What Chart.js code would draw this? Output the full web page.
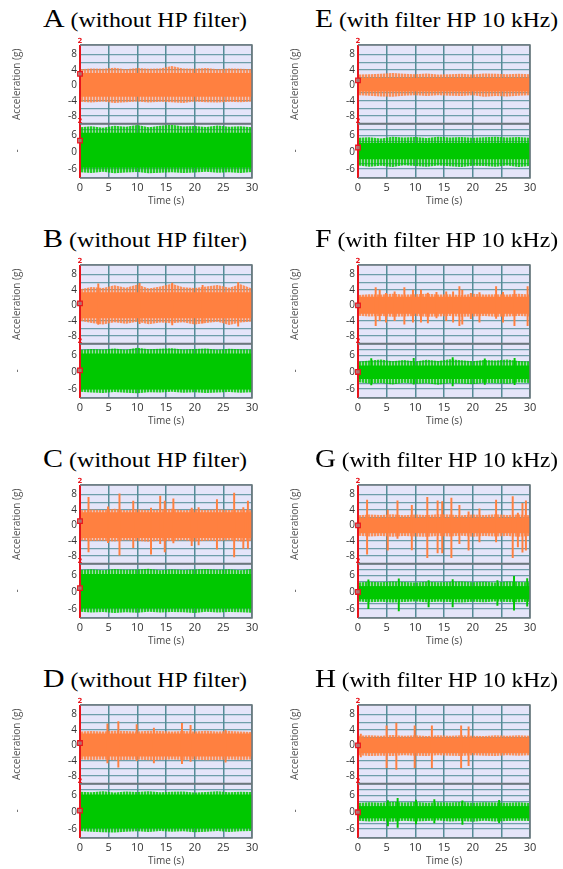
<!DOCTYPE html>
<html>
<head>
<meta charset="utf-8">
<script src="https://cdn.jsdelivr.net/npm/chart.js@4.4.1/dist/chart.umd.min.js"></script>
<style>
  body { margin: 0; width: 563px; height: 869px; background: #fff; position: relative; overflow: hidden; }
  .ttl { position: absolute; white-space: nowrap; transform-origin: 0 0;
         font-family: 'Liberation Serif', 'Times New Roman', serif; font-size: 20px; line-height: 26px; color: #000; }
  .ttl span { font-size: 25px; }
  canvas { position: absolute; }
</style>
</head>
<body>
<script>
// panels A-D (left column) and E-H (right column)
const panelLetters = ['A', 'B', 'C', 'D', 'E', 'F', 'G', 'H'];
const panelNotes = ['(without HP filter)', '(without HP filter)', '(without HP filter)', '(without HP filter)',
  '(with filter HP 10 kHz)', '(with filter HP 10 kHz)', '(with filter HP 10 kHz)', '(with filter HP 10 kHz)'];

// envelope sampled every 2 s
const envTimes = [0, 2, 4, 6, 8, 10, 12, 14, 16, 18, 20, 22, 24, 26, 28, 30];

// upper trace (orange): outer envelope of the noise, in g
const orangeHi = [
  [4.2, 4.4, 4.3, 4.6, 4.2, 4.5, 4.3, 4.4, 5.0, 4.4, 4.3, 4.5, 4.2, 4.4, 4.3, 4.2],
  [4.2, 4.8, 4.5, 5.2, 4.6, 5.4, 4.4, 4.9, 5.6, 4.7, 4.5, 4.9, 5.3, 4.6, 5.5, 4.4],
  [3.9, 4.1, 4.0, 4.3, 3.9, 4.2, 4.0, 4.1, 4.3, 3.9, 4.1, 4.0, 4.2, 4.0, 4.1, 3.9],
  [3.6, 3.7, 3.6, 3.8, 3.7, 3.6, 3.8, 3.7, 3.6, 3.7, 3.6, 3.8, 3.6, 3.7, 3.6, 3.5],
  [2.8, 2.9, 3.0, 3.2, 3.0, 2.9, 3.1, 2.8, 2.9, 3.0, 2.8, 3.1, 3.0, 2.9, 3.0, 2.9],
  [2.7, 2.9, 2.8, 3.0, 2.8, 2.9, 3.0, 2.8, 2.9, 2.7, 3.0, 2.8, 2.9, 2.8, 3.0, 2.8],
  [2.6, 2.8, 2.7, 2.9, 2.6, 2.8, 2.7, 2.9, 2.8, 2.6, 2.8, 2.7, 2.9, 2.7, 2.8, 2.6],
  [2.5, 2.6, 2.5, 2.7, 2.5, 2.6, 2.4, 2.6, 2.5, 2.6, 2.5, 2.4, 2.6, 2.5, 2.6, 2.5]
];
const orangeLo = [
  [-4.3, -4.5, -4.2, -4.6, -4.4, -4.2, -4.5, -4.3, -4.4, -4.6, -4.2, -4.4, -4.5, -4.3, -4.4, -4.2],
  [-4.0, -4.6, -5.0, -4.4, -4.8, -4.3, -4.9, -4.5, -4.7, -4.4, -5.0, -4.6, -4.3, -5.1, -4.5, -4.2],
  [-3.9, -4.1, -4.0, -4.2, -3.9, -4.1, -4.3, -4.0, -4.1, -3.9, -4.2, -4.0, -4.1, -3.9, -4.2, -4.0],
  [-3.7, -3.8, -3.7, -3.9, -3.8, -3.7, -3.9, -3.8, -3.7, -3.8, -3.7, -3.9, -3.8, -3.7, -3.8, -3.7],
  [-2.6, -2.7, -2.9, -3.0, -2.7, -2.6, -2.8, -2.6, -2.7, -2.8, -2.6, -3.0, -2.8, -2.9, -2.7, -2.6],
  [-2.7, -2.9, -2.8, -3.0, -2.9, -2.8, -3.0, -2.9, -2.8, -3.0, -2.9, -2.8, -3.0, -2.9, -2.8, -2.9],
  [-2.7, -2.9, -2.8, -3.0, -2.8, -2.9, -3.0, -2.8, -2.9, -2.7, -3.0, -2.8, -2.9, -2.8, -3.0, -2.8],
  [-2.6, -2.8, -2.7, -2.8, -2.6, -2.7, -2.8, -2.6, -2.7, -2.8, -2.6, -2.7, -2.8, -2.6, -2.7, -2.6]
];
// dense part of the orange trace [top, bottom]
const orangeCore = [[3.2, -3.0], [3.4, -3.4], [3.4, -3.3], [3.1, -2.9], [1.9, -1.6], [2.2, -2.2], [1.9, -2.0], [2.0, -2.0]];
// isolated peaks [time s, top g, bottom g]
const orangeSpikes = [
  [],
  [[3.3, 5.6, -5.0], [10.5, 5.7, -4.8], [16.2, 5.8, -5.1], [21.5, 5.2, -4.6], [27.7, 5.9, -5.4]],
  [[1.6, 7.3, -6.9], [5.0, 4.8, -4.5], [7.0, 8.2, -7.8], [9.4, 6.3, -5.8], [12.5, 4.5, -7.5], [14.1, 7.6, -4.8],
   [14.9, 6.3, -6.9], [16.4, 6.9, -4.6], [19.6, 4.5, -5.3], [20.8, 4.6, -5.1], [24.0, 6.7, -6.2], [27.0, 8.4, -8.2],
   [28.6, 4.6, -6.0], [29.4, 6.3, -6.0]],
  [[4.9, 5.6, -4.6], [6.8, 6.2, -5.7], [10.0, 5.4, -4.0], [13.0, 4.5, -4.6], [17.9, 5.7, -4.8], [19.4, 5.2, -4.2], [25.5, 4.0, -4.4]],
  [],
  [[3.2, 4.6, -5.3], [3.9, 4.0, -4.0], [5.0, 3.1, -4.4], [6.5, 3.5, -4.0], [8.2, 4.6, -4.9], [9.7, 4.0, -4.4],
   [11.1, 4.0, -4.4], [12.3, 3.2, -4.6], [13.8, 3.4, -3.3], [15.5, 3.5, -4.0], [16.7, 3.5, -4.4], [17.8, 4.9, -5.3],
   [18.3, 4.0, -4.9], [19.8, 3.1, -3.5], [21.3, 3.3, -4.4], [24.2, 4.9, -3.4], [25.4, 3.4, -4.4], [27.4, 4.0, -5.3], [29.7, 4.9, -5.3]],
  [[1.7, 6.6, -7.5], [5.3, 4.0, -6.5], [7.0, 6.4, -3.4], [9.5, 5.2, -6.4], [12.2, 7.3, -8.4], [14.0, 6.4, -7.2],
   [14.8, 6.2, -7.2], [16.4, 7.1, -8.4], [17.8, 5.2, -4.8], [19.4, 3.5, -6.5], [21.3, 4.3, -4.3], [24.2, 6.6, -4.3],
   [27.1, 7.5, -8.4], [28.0, 3.2, -5.6], [28.8, 5.7, -7.0], [29.4, 6.4, -6.5]],
  [[0.6, 2.9, -3.0], [5.1, 5.1, -5.8], [6.8, 5.8, -6.3], [10.0, 5.1, -5.8], [13.0, 5.1, -5.8], [18.1, 5.1, -5.8], [19.4, 4.8, -5.3]]
];

// lower trace (green)
const greenHi = [
  [9.0, 9.4, 8.8, 9.6, 9.2, 9.8, 9.0, 9.6, 9.9, 9.3, 9.5, 9.1, 9.7, 9.2, 9.4, 9.0],
  [8.0, 8.4, 8.2, 8.6, 8.1, 8.8, 8.3, 8.5, 8.7, 8.2, 8.4, 8.6, 8.1, 8.5, 8.3, 8.2],
  [8.0, 8.3, 7.9, 8.4, 8.1, 8.2, 8.5, 7.9, 8.3, 8.0, 8.2, 8.4, 8.1, 8.3, 7.9, 8.4],
  [7.4, 7.2, 7.6, 7.1, 7.5, 7.3, 7.6, 7.2, 7.4, 7.5, 7.1, 7.3, 7.6, 7.2, 7.4, 7.3],
  [5.2, 5.4, 5.0, 5.6, 5.3, 5.5, 5.1, 5.6, 5.3, 5.5, 5.2, 5.4, 5.6, 5.3, 5.5, 5.2],
  [3.8, 4.2, 4.6, 4.0, 4.4, 3.9, 4.5, 4.1, 4.7, 4.3, 4.0, 4.4, 4.2, 4.6, 4.1, 3.9],
  [3.5, 3.8, 3.6, 3.9, 3.7, 3.5, 3.8, 3.6, 3.7, 3.9, 3.6, 3.8, 3.5, 3.9, 3.7, 3.6],
  [3.3, 3.6, 3.4, 3.8, 3.5, 3.7, 3.4, 3.6, 3.5, 3.7, 3.4, 3.6, 3.5, 3.4, 3.6, 3.3]
];
const greenLo = [
  [-7.2, -7.5, -7.0, -7.6, -7.3, -7.1, -7.6, -7.4, -7.2, -7.5, -7.3, -7.0, -7.4, -7.2, -7.5, -7.1],
  [-7.0, -7.3, -7.5, -7.1, -7.4, -7.6, -7.2, -7.3, -7.0, -7.4, -7.2, -7.5, -7.3, -7.1, -7.4, -7.2],
  [-7.0, -7.3, -7.1, -7.5, -7.2, -7.4, -7.0, -7.3, -7.1, -7.2, -7.5, -7.0, -7.3, -7.1, -7.2, -7.4],
  [-6.8, -7.0, -7.2, -7.3, -7.0, -6.9, -7.1, -6.8, -7.0, -6.9, -7.2, -7.0, -6.8, -7.1, -6.9, -6.8],
  [-4.8, -5.2, -4.9, -5.3, -4.7, -5.0, -5.2, -4.8, -5.1, -5.3, -4.9, -5.0, -5.2, -4.8, -5.3, -5.0],
  [-3.6, -4.1, -3.9, -4.4, -3.8, -4.2, -4.0, -4.5, -3.9, -4.1, -4.3, -3.8, -4.0, -4.2, -3.7, -3.9],
  [-3.3, -3.6, -3.4, -3.7, -3.5, -3.3, -3.6, -3.4, -3.5, -3.7, -3.4, -3.6, -3.3, -3.5, -3.6, -3.4],
  [-3.1, -3.3, -3.2, -3.4, -3.1, -3.3, -3.2, -3.0, -3.3, -3.2, -3.4, -3.1, -3.3, -3.2, -3.1, -3.2]
];
const greenCore = [[7.0, -5.6], [6.8, -6.2], [6.6, -5.8], [6.4, -5.8], [3.3, -2.5], [2.4, -2.4], [2.2, -2.5], [2.2, -2.2]];
const greenSpikes = [
  [], [], [], [], [],
  [[2.2, 4.9, -4.6], [9.6, 5.0, -4.3], [16.4, 5.3, -4.9], [22.0, 4.8, -4.4], [27.2, 5.0, -4.5]],
  [[1.7, 4.5, -5.9], [7.0, 4.8, -6.7], [12.2, 4.2, -5.3], [16.4, 4.6, -5.3], [24.2, 4.2, -4.8], [27.1, 5.7, -6.5], [29.4, 4.9, -5.0]],
  [[5.1, 4.2, -4.9], [6.8, 5.0, -5.5], [10.0, 4.4, -4.2], [13.2, 4.6, -3.9], [18.1, 4.1, -4.4], [24.5, 4.3, -3.8]]
];

// cursor markers at t = 0
const cursorTime = 0;
const cursorUp = [3.0, 0.5, 1.1, 0.6, 1.3, 0.0, 0.0, 0.0];
const cursorDown = [4.2, 0.7, 1.5, 0.6, 1.7, 0.1, 0.1, 0.0];

// axis ranges
const upRange = [-10, 10.5];
const downRange = [-9.3, 10.3];

const ORANGE = 'rgb(255,128,64)';
const GREEN = 'rgb(0,200,0)';
const RED = '#e8141c';
const GRID = 'rgba(80,140,150,0.8)';
const TICK_FONT = { family: "'Open Sans', sans-serif", size: 10 };

function stripes(color) {
  const c = document.createElement('canvas');
  c.width = 3; c.height = 4;
  const g = c.getContext('2d');
  g.fillStyle = color;
  g.globalAlpha = 0.85; g.fillRect(0, 0, 2, 4);
  g.globalAlpha = 0.3; g.fillRect(2, 0, 1, 4);
  return g.createPattern(c, 'repeat');
}

function pts(values) {
  return envTimes.map((t, k) => ({ x: t, y: values[k] }));
}

function channel(i, axis, color, hi, lo, core, spikes, cursorY, range) {
  const flat = v => envTimes.map(t => ({ x: t, y: v }));
  return [
    { data: pts(hi[i]), yAxisID: axis, borderWidth: 0, pointRadius: 0, fill: '+1', backgroundColor: stripes(color), order: 5 },
    { data: pts(lo[i]), yAxisID: axis, borderWidth: 0, pointRadius: 0, fill: false, order: 5 },
    { data: flat(core[i][0]), yAxisID: axis, borderWidth: 0, pointRadius: 0, fill: '+1', backgroundColor: color, order: 4 },
    { data: flat(core[i][1]), yAxisID: axis, borderWidth: 0, pointRadius: 0, fill: false, order: 4 },
    { type: 'bar', data: spikes[i].map(s => ({ x: s[0], y: [s[2], s[1]] })), yAxisID: axis,
      backgroundColor: color, barThickness: 1.3, order: 3 },
    { data: [{ x: cursorTime, y: range[0] }, { x: cursorTime, y: range[1] }], yAxisID: axis,
      borderColor: RED, borderWidth: 2, pointRadius: 0, clip: false, order: 2 },
    { data: [{ x: cursorTime, y: cursorY[i] }], yAxisID: axis, showLine: false, pointStyle: 'rect',
      pointRadius: 3.2, borderColor: RED, borderWidth: 1.3, backgroundColor: 'rgba(150,150,150,0.7)', clip: false, order: 1 }
  ];
}

const framePlugin = {
  id: 'frame',
  beforeDraw(chart) {
    const { ctx, chartArea: a } = chart;
    ctx.save();
    ctx.fillStyle = '#e5e5f9';
    ctx.fillRect(a.left, a.top, a.width, a.height);
    ctx.restore();
  },
  afterDatasetsDraw(chart) {
    const { ctx, chartArea: a, scales } = chart;
    ctx.save();
    ctx.strokeStyle = '#6d777c';
    ctx.lineWidth = 1.5;
    ctx.beginPath();
    ctx.moveTo(a.left, a.top); ctx.lineTo(a.right, a.top);
    ctx.lineTo(a.right, a.bottom); ctx.lineTo(a.left, a.bottom);
    ctx.stroke();
    ctx.lineWidth = 2;
    ctx.beginPath();
    ctx.moveTo(a.left, scales.yUp.bottom); ctx.lineTo(a.right, scales.yUp.bottom);
    ctx.stroke();
    const x0 = scales.x.getPixelForValue(cursorTime);
    ctx.fillStyle = RED;
    ctx.font = "bold 7px 'DejaVu Sans'";
    ctx.textAlign = 'center';
    ctx.textBaseline = 'bottom';
    ctx.fillText('2', x0, scales.yUp.top);
    ctx.fillText('2', x0, scales.yDown.top + 1);
    ctx.restore();
  }
};

// title extents in the picture: [left, right]
const titleSpan = [[43, 247], [315, 558]];

panelLetters.forEach((letter, i) => {
  const col = i < 4 ? 0 : 1;
  const row = i % 4;
  const plotTop = 45 + 220 * row;

  const t = document.createElement('div');
  t.className = 'ttl';
  t.style.left = titleSpan[col][0] + 'px';
  t.style.top = plotTop - 39 + 'px';
  t.innerHTML = '<span>' + letter + '</span> ' + panelNotes[i];
  document.body.appendChild(t);
  const w = t.getBoundingClientRect().width;
  t.style.transform = 'scaleX(' + ((titleSpan[col][1] - titleSpan[col][0]) / w).toFixed(3) + ')';

  const cv = document.createElement('canvas');
  cv.width = 280; cv.height = 177;
  cv.style.left = (col ? 278 : 0) + 'px';
  cv.style.top = plotTop - 12 + 'px';
  document.body.appendChild(cv);

  const yScale = (range, weight, every, label) => ({
    type: 'linear', position: 'left', stack: 'acc', stackWeight: weight,
    min: range[0], max: range[1],
    ticks: { stepSize: 2, autoSkip: false, padding: 3, font: TICK_FONT, color: '#333',
      callback: v => (v % every === 0 ? String(v) : '') },
    grid: { color: GRID, lineWidth: 1.2, drawTicks: false },
    border: { display: false },
    title: { display: true, text: label, color: '#555', font: { family: "'Open Sans', sans-serif", size: 10 },
      padding: { top: 11, bottom: 0 } },
    afterFit: s => { s.width = 80; }
  });

  new Chart(cv, {
    type: 'line',
    data: {
      datasets: [
        ...channel(i, 'yUp', ORANGE, orangeHi, orangeLo, orangeCore, orangeSpikes, cursorUp, upRange),
        ...channel(i, 'yDown', GREEN, greenHi, greenLo, greenCore, greenSpikes, cursorDown, downRange)
      ]
    },
    options: {
      responsive: false,
      animation: false,
      layout: { padding: { top: 12, right: 28, bottom: 0, left: 0 } },
      plugins: { legend: { display: false }, tooltip: { enabled: false } },
      scales: {
        x: {
          type: 'linear', min: 0, max: 30, offset: false,
          ticks: { stepSize: 5, autoSkip: false, maxRotation: 0, padding: 3, font: { family: "'Open Sans', sans-serif", size: 11 }, color: '#333' },
          grid: { color: 'rgba(70,130,140,0.9)', lineWidth: 1.5, drawTicks: false, offset: false },
          border: { display: false },
          title: { display: true, text: 'Time (s)', color: '#444', font: { family: "'Open Sans', sans-serif", size: 10 },
            padding: { top: 0, bottom: 3 } },
          afterFit: s => { s.height = 32; }
        },
        yDown: yScale(downRange, 1, 6, '-'),
        yUp: yScale(upRange, 1.45, 4, 'Acceleration (g)')
      }
    },
    plugins: [framePlugin]
  });
});
</script>
</body>
</html>
